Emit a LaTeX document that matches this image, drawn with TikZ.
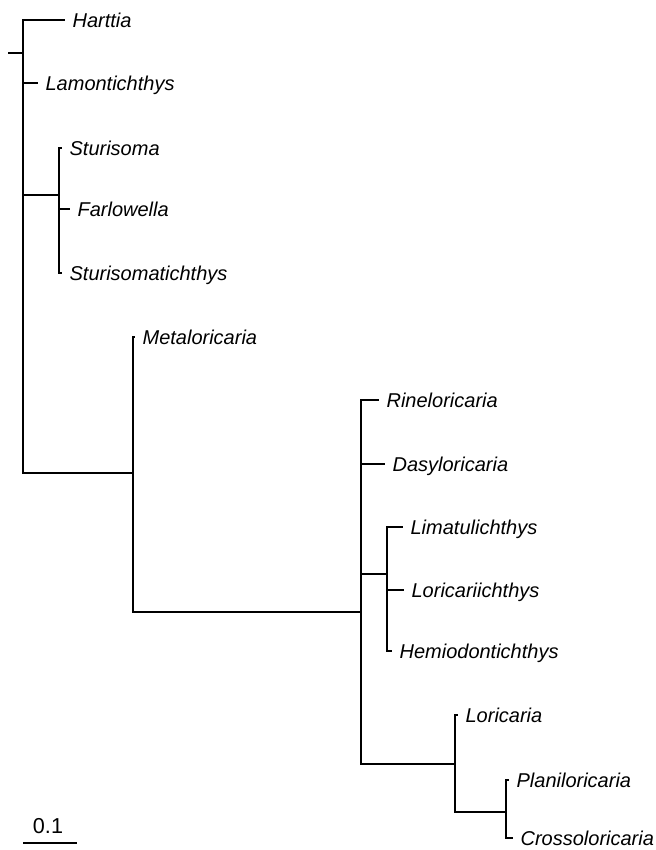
\documentclass[tikz,border=0pt]{standalone}
\usepackage{fontspec}
\setmainfont{Liberation Sans}
\usepackage{tikz}

\begin{document}
\begin{tikzpicture}[x=0.5pt,y=-0.5pt,line width=1.2pt]
\tikzstyle{every node}+=[inner sep=0pt]
\tikzstyle{taxon}=[anchor=west,text height=7.2pt,text depth=0pt,font=\itshape,xshift=3.2pt]
\useasboundingbox (0,0) rectangle (656,850);
% internal nodes
\coordinate (root) at (8,53);
\coordinate (n1) at (23,53);
\coordinate (n2) at (59,195);
\coordinate (n3) at (133,473);
\coordinate (n4) at (361,612);
\coordinate (n5) at (387,574);
\coordinate (n6) at (455,764);
\coordinate (n7) at (506,812);
% tips
\coordinate (tHar) at (65,20);
\coordinate (tLam) at (38,83);
\coordinate (tStu) at (62,148);
\coordinate (tFar) at (70,209);
\coordinate (tSmt) at (62,273);
\coordinate (tMet) at (135,337);
\coordinate (tRin) at (379,400);
\coordinate (tDas) at (385,464);
\coordinate (tLim) at (403,527);
\coordinate (tLor) at (404,590);
\coordinate (tHem) at (392,651);
\coordinate (tLca) at (458,715);
\coordinate (tPla) at (509,780);
\coordinate (tCro) at (513,838);
% branches
\draw (root) -- (n1);
\draw (n1) |- (tHar);
\draw (n1) |- (tLam);
\draw (n1) |- (n2);
\draw (n1) |- (n3);
\draw (n2) |- (tStu);
\draw (n2) |- (tFar);
\draw (n2) |- (tSmt);
\draw (n3) |- (tMet);
\draw (n3) |- (n4);
\draw (n4) |- (tRin);
\draw (n4) |- (tDas);
\draw (n4) |- (n5);
\draw (n4) |- (n6);
\draw (n5) |- (tLim);
\draw (n5) |- (tLor);
\draw (n5) |- (tHem);
\draw (n6) |- (tLca);
\draw (n6) |- (n7);
\draw (n7) |- (tPla);
\draw (n7) |- (tCro);
% labels
\node[taxon] (Har) at (tHar) {Harttia};
\node[taxon] (Lam) at (tLam) {Lamontichthys};
\node[taxon] (Stu) at (tStu) {Sturisoma};
\node[taxon] (Far) at (tFar) {Farlowella};
\node[taxon] (Smt) at (tSmt) {Sturisomatichthys};
\node[taxon] (Met) at (tMet) {Metaloricaria};
\node[taxon] (Rin) at (tRin) {Rineloricaria};
\node[taxon] (Das) at (tDas) {Dasyloricaria};
\node[taxon] (Lim) at (tLim) {Limatulichthys};
\node[taxon] (Lor) at (tLor) {Loricariichthys};
\node[taxon] (Hem) at (tHem) {Hemiodontichthys};
\node[taxon] (Lca) at (tLca) {Loricaria};
\node[taxon] (Pla) at (tPla) {Planiloricaria};
\node[taxon] (Cro) at (tCro) {Crossoloricaria};
% scale bar
\coordinate (sbA) at (23,843);
\coordinate (sbB) at (77,843);
\draw (sbA) -- (sbB);
\node[anchor=base,yshift=5pt,font=\fontsize{10.8}{13}\selectfont] (sbL) at (48,843) {0.1};
\end{tikzpicture}
\end{document}
